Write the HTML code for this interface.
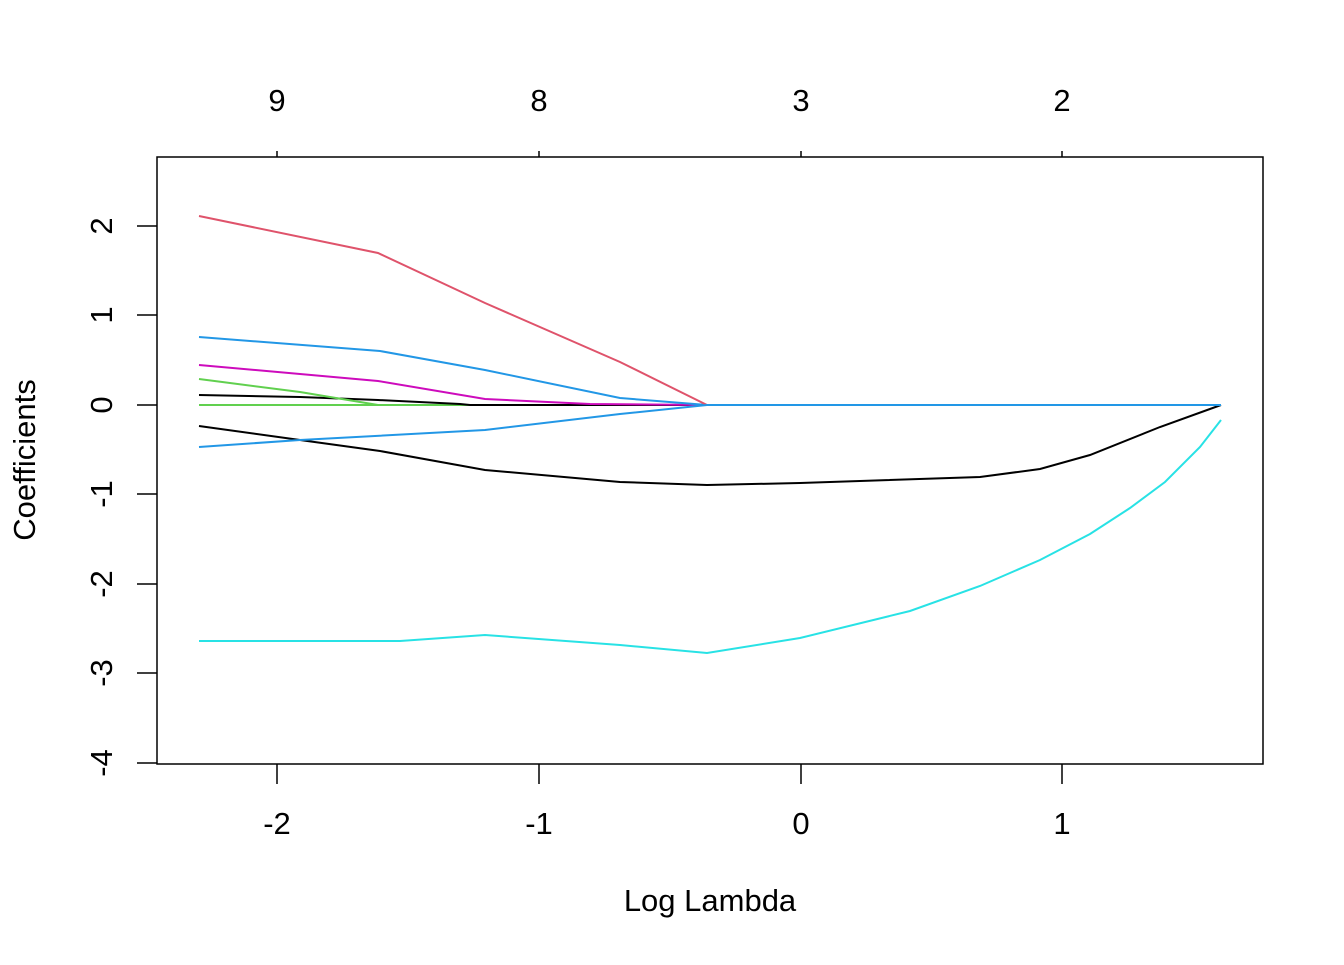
<!DOCTYPE html>
<html><head><style>body{margin:0;background:#fff}</style></head><body>
<svg width="1344" height="960" xmlns="http://www.w3.org/2000/svg" font-family="Liberation Sans, sans-serif" font-size="31">
<rect width="1344" height="960" fill="#fff"/>
<g fill="none" stroke-width="2">
<polyline stroke="#df536b" points="199,405 360,405"/>
<polyline stroke="#61d04f" points="199,405 1221,405"/>
<polyline stroke="#000" points="199,395 300,397 378,400 460,404 470,405 707,405"/>
<polyline stroke="#61d04f" points="199,379 300,392 378,405"/>
<polyline stroke="#cd0bbc" points="199,365 378,381 485,399 590,404 707,405"/>
<polyline stroke="#2297e6" points="199,337 380,351 485,370 620,398 707,405"/>
<polyline stroke="#df536b" points="199,216 378,253 485,303 620,362 707,405"/>
<polyline stroke="#000" points="199,426 300,440 380,451 485,470 620,482 707,485 800,483 980,477 1040,469 1090,455 1160,427 1221,405"/>
<polyline stroke="#28e2e5" points="199,641 400,641 485,635 620,645 707,653 800,638 910,611 980,586 1040,560 1090,534 1130,508 1165,482 1200,447 1221,420"/>
<polyline stroke="#2297e6" points="199,447 300,440 485,430 620,414 707,405 1221,405"/>
</g>
<g stroke="#000" stroke-width="1.5" fill="none">
<rect x="157" y="157" width="1106" height="607"/>
<path d="M277,764v20M539,764v20M801,764v20M1062,764v20"/>
<path d="M277,157v-6M539,157v-6M801,157v-6M1062,157v-6"/>
<path d="M157,226h-20M157,315h-20M157,405h-20M157,494h-20M157,584h-20M157,673h-20M157,763h-20"/>
</g>
<g text-anchor="middle" fill="#000">
<text x="277" y="834">-2</text><text x="539" y="834">-1</text><text x="801" y="834">0</text><text x="1062" y="834">1</text>
<text x="277" y="111">9</text><text x="539" y="111">8</text><text x="801" y="111">3</text><text x="1062" y="111">2</text>
<text x="710" y="911">Log Lambda</text>
<g transform="translate(112,0)">
<text transform="translate(0,226) rotate(-90)">2</text>
<text transform="translate(0,315) rotate(-90)">1</text>
<text transform="translate(0,405) rotate(-90)">0</text>
<text transform="translate(0,494) rotate(-90)">-1</text>
<text transform="translate(0,584) rotate(-90)">-2</text>
<text transform="translate(0,673) rotate(-90)">-3</text>
<text transform="translate(0,763) rotate(-90)">-4</text>
</g>
<text transform="translate(35,460) rotate(-90)">Coefficients</text>
</g>
</svg>
</body></html>
